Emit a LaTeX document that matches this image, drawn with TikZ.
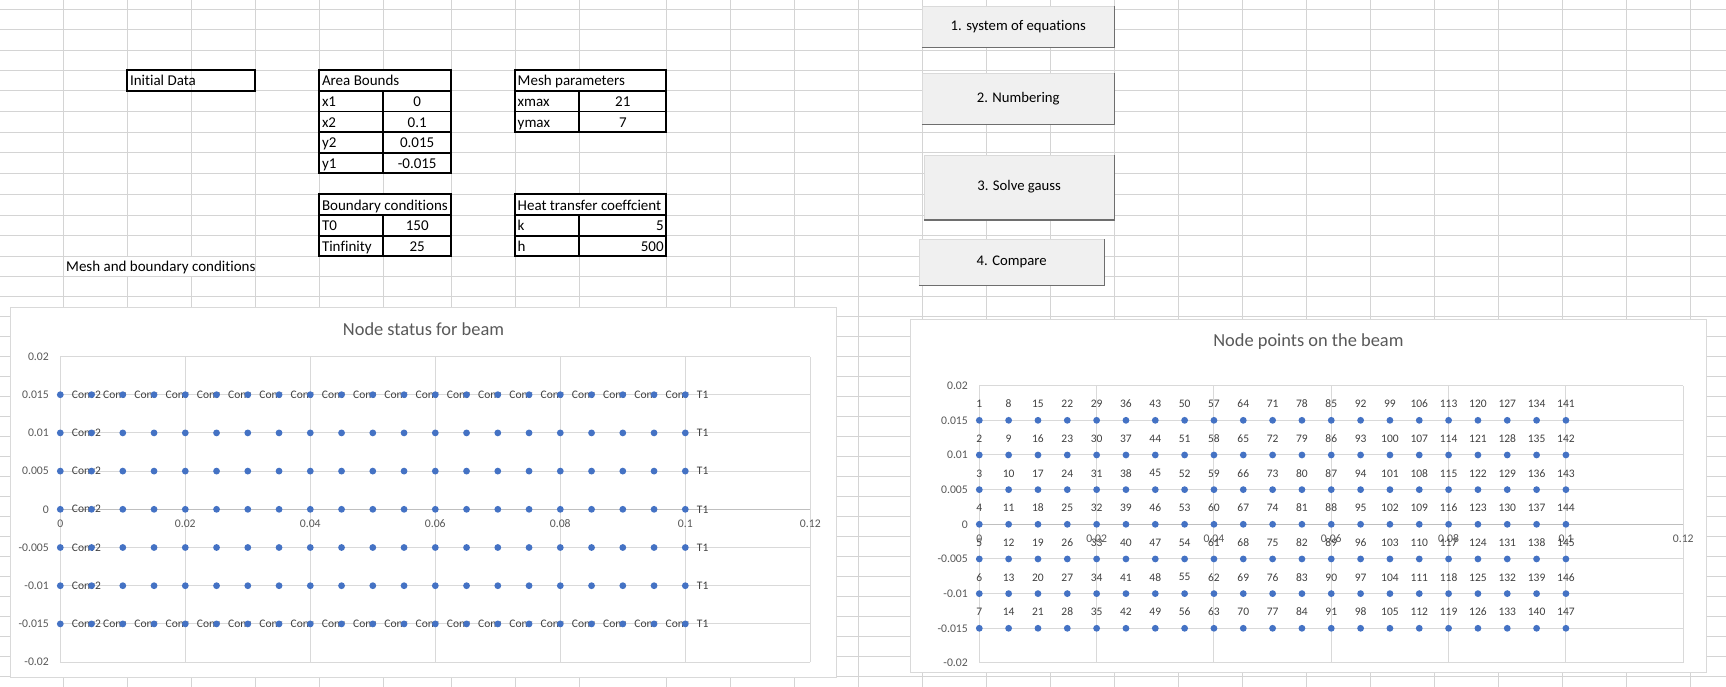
\documentclass[tikz,border=0pt]{standalone}
\usepackage{fontspec}
\setmainfont[Ligatures=NoCommon]{Carlito}
\definecolor{gridc}{HTML}{D4D4D4}
\definecolor{btnfill}{HTML}{F0F0F0}
\definecolor{btnedge}{HTML}{DADADA}
\definecolor{btnshade}{HTML}{6E6E6E}
\definecolor{framec}{HTML}{D9D9D9}
\definecolor{cgridc}{HTML}{D9D9D9}
\definecolor{caxisc}{HTML}{BFBFBF}
\definecolor{labc}{HTML}{595959}
\definecolor{dlabc}{HTML}{404040}
\definecolor{dotc}{HTML}{4472C4}
\begin{document}
\begin{tikzpicture}[x=1pt,y=-1pt,
  gridl/.style={draw=gridc,line width=1pt},
  cellbox/.style={line width=1.7pt,draw=black},
  celltxt/.style={inner sep=0pt,font=\fontsize{15}{18}\selectfont,text=black},
  btn/.style={fill=btnfill,draw=btnedge,line width=0.8pt,inner sep=0pt,font=\fontsize{14.7}{17}\selectfont},
  btnshadow/.style={draw=btnshade,line width=1.6pt},
  chartframe/.style={draw=framec,fill=white,line width=1pt},
  cgrid/.style={draw=cgridc,line width=1pt},
  caxis/.style={draw=caxisc,line width=1pt},
  ticklab/.style={inner sep=0pt,font=\fontsize{11.7}{14}\selectfont,text=labc},
  datalab/.style={inner sep=0pt,font=\fontsize{11.5}{14}\selectfont,text=dlabc},
  ctitle/.style={inner sep=0pt,font=\fontsize{18.4}{22}\selectfont,text=labc},
  markdot/.style={circle,fill=dotc,inner sep=0pt,minimum size=6.8pt}
]
\fill[white] (0,0) rectangle (1726,687);
\useasboundingbox (0,0) rectangle (1726,687);
% spreadsheet grid
\foreach \gx in {63.3,127.3,191.3,255.3,319.3,383.3,451,515,579.3,666.3,730.3,794.3,858.6,922.5,986.5,1050.5,1114.5,1178.6,1242.4,1306.6,1370.5,1434.9,1498.7,1562.5,1626.3,1690.3}
  \draw[gridl] (\gx,0) -- (\gx,687);
\foreach \gy in {9.3,29.9,50.5,70.3,91.0,111.4,132.2,152.7,173.3,194.2,215.1,235.7,256.3,276.3,296.3,316.3,336.3,356.3,376.3,396.3,416.3,436.3,456.3,476.3,496.3,516.3,536.3,556.3,576.3,596.3,616.3,636.3,656.3,676.3}
  \draw[gridl] (0,\gy) -- (1726,\gy);
% hide gridlines under overflowing texts
\fill[white] (64,257) rectangle (254.7,275.8);
\fill[white] (319.3,70.3) rectangle (451,91);
\fill[white] (515,70.3) rectangle (666.3,91);
\fill[white] (319.3,194.2) rectangle (451,215.1);
\fill[white] (515,194.2) rectangle (666.3,215.1);
% Initial Data
\draw[cellbox] (127.3,70.3) rectangle (255.3,91);
\node[celltxt,anchor=base west] (init) at (129.8,86) {Initial Data};
% Area Bounds
\draw[cellbox] (319.3,70.3) rectangle (451,173.3);
\draw[cellbox] (319.3,91) -- (451,91) (319.3,111.4) -- (451,111.4) (319.3,132.2) -- (451,132.2) (319.3,152.7) -- (451,152.7) (383.3,91) -- (383.3,173.3);
\node[celltxt,anchor=base west] (abh) at (321.8,86) {Area Bounds};
\foreach \nm/\val/\yb [count=\k] in {x1/0/106.4,x2/0.1/127.2,y2/0.015/147.7,y1/-0.015/168.3}{
  \node[celltxt,anchor=base west] (abn\k) at (321.8,\yb) {\nm};
  \node[celltxt,anchor=base] (abv\k) at (417.2,\yb) {\val};
}
% Mesh parameters
\draw[cellbox] (515,70.3) rectangle (666.3,132.2);
\draw[cellbox] (515,91) -- (666.3,91) (515,111.4) -- (666.3,111.4) (579.3,91) -- (579.3,132.2);
\node[celltxt,anchor=base west] (mph) at (517.5,86) {Mesh parameters};
\node[celltxt,anchor=base west] (mpn1) at (517.5,106.4) {xmax};
\node[celltxt,anchor=base] (mpv1) at (622.8,106.4) {21};
\node[celltxt,anchor=base west] (mpn2) at (517.5,127.2) {ymax};
\node[celltxt,anchor=base] (mpv2) at (622.8,127.2) {7};
% Boundary conditions
\draw[cellbox] (319.3,194.2) rectangle (451,256.3);
\draw[cellbox] (319.3,215.1) -- (451,215.1) (319.3,235.7) -- (451,235.7) (383.3,215.1) -- (383.3,256.3);
\node[celltxt,anchor=base west] (bch) at (321.8,210.1) {Boundary conditions};
\node[celltxt,anchor=base west] (bcn1) at (321.8,230.7) {T0};
\node[celltxt,anchor=base] (bcv1) at (417.2,230.7) {150};
\node[celltxt,anchor=base west] (bcn2) at (321.8,251.3) {Tinfinity};
\node[celltxt,anchor=base] (bcv2) at (417.2,251.3) {25};
% Heat transfer coefficient
\draw[cellbox] (515,194.2) rectangle (666.3,256.3);
\draw[cellbox] (515,215.1) -- (666.3,215.1) (515,235.7) -- (666.3,235.7) (579.3,215.1) -- (579.3,256.3);
\node[celltxt,anchor=base west] (hth) at (517.5,210.1) {Heat transfer coeffcient};
\node[celltxt,anchor=base west] (htn1) at (517.5,230.7) {k};
\node[celltxt,anchor=base east] (htv1) at (663.8,230.7) {5};
\node[celltxt,anchor=base west] (htn2) at (517.5,251.3) {h};
\node[celltxt,anchor=base east] (htv2) at (663.8,251.3) {500};
% caption
\node[celltxt,anchor=base west] (mbc) at (66,271.3) {Mesh and boundary conditions};
% buttons
\node[btn,minimum width=191.9pt,minimum height=40.6pt] (b1) at (1018.25,27) {1. system of equations};
\node[btn,minimum width=191.9pt,minimum height=51pt] (b2) at (1018.25,98.8) {2. Numbering};
\node[btn,minimum width=189.7pt,minimum height=64.3pt] (b3) at (1019.15,187.15) {3. Solve gauss};
\node[btn,minimum width=184.7pt,minimum height=45.7pt] (b4) at (1011.65,262.15) {4. Compare};
\foreach \b in {b1,b2,b3,b4}
  \draw[btnshadow] (\b.south west) -- (\b.south east) -- (\b.north east);
% ---------- chart 1 ----------
\draw[chartframe] (10.7,307.3) rectangle (836.3,677.3);
\node[ctitle] (title1) at (423.5,329.3) {Node status for beam};
\begin{scope}[shift={(60.3,509.3)},x=6.25pt,y=7.64pt]
  \foreach \gx in {0,20,...,120} \draw[cgrid] (\gx,-20) -- (\gx,20);
  \foreach \gy in {-20,-15,...,20} \draw[cgrid] (0,\gy) -- (120,\gy);
  \draw[caxis] (0,0) -- (120,0);
  \foreach \v/\t [count=\k] in {20/0.02,15/0.015,10/0.01,5/0.005,0/0,-5/-0.005,-10/-0.01,-15/-0.015,-20/-0.02}
    \node[ticklab,anchor=east] (ya\k) at ([xshift=-11.3pt]0,\v) {\t};
  \foreach \v/\t [count=\k] in {0/0,20/0.02,40/0.04,60/0.06,80/0.08,100/0.1,120/0.12}
    \node[ticklab] (xa\k) at ([yshift=-14.7pt]\v,0) {\t};
  \foreach \yy [count=\r] in {15,-15}{
    \node[datalab,anchor=west] (ce\r-0) at ([xshift=11.4pt]0,\yy) {Conv2};
    \foreach \i in {1,...,19}
      \node[datalab,anchor=west] (ce\r-\i) at ([xshift=11.4pt]5*\i,\yy) {Conv};
  }
  \foreach \yy [count=\r] in {10,5,0,-5,-10}
    \node[datalab,anchor=west] (cm\r) at ([xshift=11.4pt]0,\yy) {Conv2};
  \foreach \yy [count=\r] in {15,10,5,0,-5,-10,-15}
    \node[datalab,anchor=west] (tr\r) at ([xshift=11.4pt]100,\yy) {T1};
  \foreach \i in {0,...,20}
    \foreach \j in {0,...,6}
      \node[markdot] (p\i-\j) at (5*\i,15-5*\j) {};
\end{scope}
% ---------- chart 2 ----------
\draw[chartframe] (910.7,319.3) rectangle (1706.3,672.3);
\node[ctitle] (title2) at (1308.4,341.7) {Node points on the beam};
\begin{scope}[shift={(979.3,524.3)},x=5.866pt,y=6.932pt]
  \foreach \gx in {0,20,...,120} \draw[cgrid] (\gx,-20) -- (\gx,20);
  \foreach \gy in {-20,-15,...,20} \draw[cgrid] (0,\gy) -- (120,\gy);
  \draw[caxis] (0,0) -- (120,0);
  \foreach \v/\t [count=\k] in {20/0.02,15/0.015,10/0.01,5/0.005,0/0,-5/-0.005,-10/-0.01,-15/-0.015,-20/-0.02}
    \node[ticklab,anchor=east] (yb\k) at ([xshift=-11.3pt]0,\v) {\t};
  \foreach \v/\t [count=\k] in {0/0,20/0.02,40/0.04,60/0.06,80/0.08,100/0.1,120/0.12}
    \node[ticklab] (xb\k) at ([yshift=-14.7pt]\v,0) {\t};
  \foreach \i in {0,...,20}
    \foreach \j in {0,...,6}{
      \pgfmathtruncatemacro\nn{7*\i+\j+1}
      \node[datalab] (n\nn) at ([yshift=16.3pt]5*\i,15-5*\j) {\nn};
    }
  \foreach \i in {0,...,20}
    \foreach \j in {0,...,6}
      \node[markdot] (q\i-\j) at (5*\i,15-5*\j) {};
\end{scope}
\end{tikzpicture}
\end{document}
